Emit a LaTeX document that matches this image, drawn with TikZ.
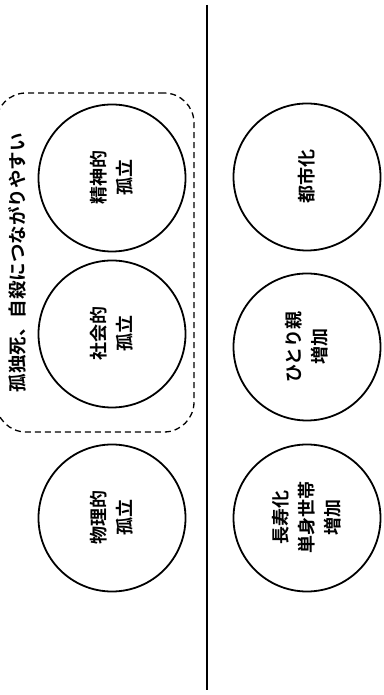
\documentclass[tikz,border=0pt]{standalone}
\usepackage{fontspec}
\newfontfamily\cjk{Noto Sans CJK JP Bold}
\begin{document}
\begin{tikzpicture}[x=1pt,y=1pt,
  circ/.style={draw, circle, line width=1.8pt, minimum size=147pt, inner sep=0pt, rotate=90, align=center, font=\cjk\fontsize{18}{26}\selectfont},
  grpbox/.style={draw, line width=1.3pt, dash pattern=on 6pt off 4pt, rounded corners=30pt, minimum width=198pt, minimum height=339pt, inner sep=0pt},
  lbl/.style={rotate=90, font=\cjk\fontsize{18.5}{22}\selectfont, inner sep=0pt}]
\useasboundingbox (0,0) rectangle (383,695);
\node[grpbox] (grp) at (95,432.5) {};
\node[lbl] (note) at (17,432) {孤独死、自殺につながりやすい};
\node[circ] (seishin) at (112,517) {精神的\\孤立};
\node[circ] (shakai) at (112,361) {社会的\\孤立};
\node[circ] (butsuri) at (112,177) {物理的\\孤立};
\node[circ] (toshi) at (307,518) {都市化};
\node[circ] (hitori) at (307,348) {ひとり親\\増加};
\node[circ] (chouju) at (307,177) {長寿化\\単身世帯\\増加};
\coordinate (lt) at (207,690);
\coordinate (lb) at (207,5);
\draw[line width=2.5pt] (lt) -- (lb);
\end{tikzpicture}
\end{document}
